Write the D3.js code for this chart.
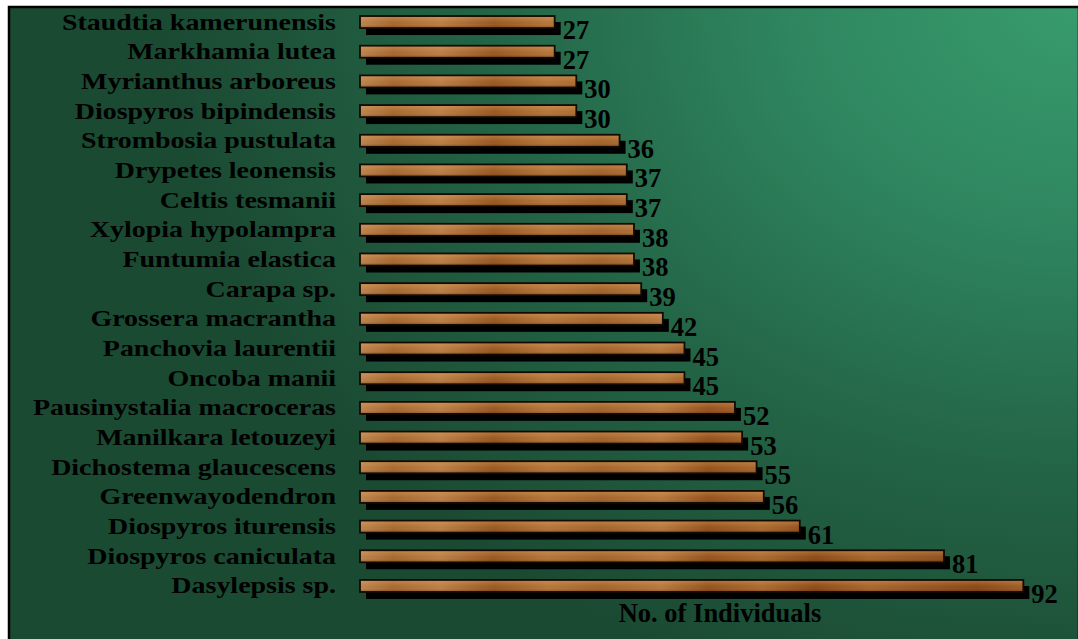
<!DOCTYPE html>
<html>
<head>
<meta charset="utf-8">
<script src="https://cdn.jsdelivr.net/npm/d3@7"></script>
<style>
  html, body { margin: 0; padding: 0; background: #ffffff; }
  svg { display: block; }
  text { font-family: "Liberation Serif", "Times New Roman", serif; font-weight: bold; fill: #000; }
</style>
</head>
<body>
<svg id="chart" width="1078" height="639"></svg>
<script>
const species = [
  "Staudtia kamerunensis", "Markhamia lutea", "Myrianthus arboreus", "Diospyros bipindensis",
  "Strombosia pustulata", "Drypetes leonensis", "Celtis tesmanii", "Xylopia hypolampra",
  "Funtumia elastica", "Carapa sp.", "Grossera macrantha", "Panchovia laurentii",
  "Oncoba manii", "Pausinystalia macroceras", "Manilkara letouzeyi", "Dichostema glaucescens",
  "Greenwayodendron", "Diospyros iturensis", "Diospyros caniculata", "Dasylepsis sp."
];
const individuals = [27, 27, 30, 30, 36, 37, 37, 38, 38, 39, 42, 45, 45, 52, 53, 55, 56, 61, 81, 92];
const axisTitle = "No. of Individuals";

const W = 1078, H = 639;
const svg = d3.select("#chart");
const defs = svg.append("defs");

// background gradient
const bg = defs.append("radialGradient").attr("id", "bg")
  .attr("gradientUnits", "userSpaceOnUse")
  .attr("cx", 1078).attr("cy", 0).attr("r", 760)
  .attr("gradientTransform", "translate(1078,0) scale(1.2,0.95) translate(-1078,0)");
[[0, "#389c6d"], [0.3, "#2f8760"], [0.65, "#236446"], [1, "#1b4a33"]].forEach(([o, c]) =>
  bg.append("stop").attr("offset", o).attr("stop-color", c));

// wood gradient (horizontal grain)
const wood = defs.append("linearGradient").attr("id", "wood")
  .attr("gradientUnits", "userSpaceOnUse").attr("x1", 360).attr("x2", 1030).attr("y1", 0).attr("y2", 0);
[[0, "#bf8650"], [0.05, "#a86a32"], [0.12, "#bd8048"], [0.2, "#9a5a24"], [0.28, "#b6773c"],
 [0.36, "#a4662e"], [0.45, "#b87a40"], [0.52, "#965420"], [0.6, "#ac6c32"], [0.68, "#8e4c1a"],
 [0.76, "#a86830"], [0.84, "#985826"], [0.92, "#8a4a1a"], [1, "#a2622e"]].forEach(([o, c]) =>
  wood.append("stop").attr("offset", o).attr("stop-color", c));
const shine = defs.append("linearGradient").attr("id", "shine")
  .attr("x1", 0).attr("x2", 0).attr("y1", 0).attr("y2", 1);
[[0, "#e8b070", 0.3], [0.45, "#e8b070", 0.05], [0.75, "#000000", 0.0], [1, "#000000", 0.15]].forEach(([o, c, a]) =>
  shine.append("stop").attr("offset", o).attr("stop-color", c).attr("stop-opacity", a));

svg.append("rect").attr("x", 9).attr("y", 7).attr("width", W - 8).attr("height", H)
  .attr("fill", "url(#bg)").attr("stroke", "#000").attr("stroke-width", 2.5);

const x = d3.scaleLinear().domain([0, 100]).range([360, 1081]);
const y = d3.scaleBand().domain(species).range([7.2, 600.8]).padding(0);
const barH = 12;
const cy = d => y(d) + y.bandwidth() / 2;

const rows = svg.append("g").selectAll("g").data(species).join("g");

// shadows
rows.append("rect")
  .attr("x", x(0) + 6)
  .attr("y", d => cy(d) - barH / 2 + 6)
  .attr("width", (d, i) => x(individuals[i]) - x(0))
  .attr("height", barH + 1)
  .attr("fill", "#000");

// bars
rows.append("rect")
  .attr("x", x(0))
  .attr("y", d => cy(d) - barH / 2)
  .attr("width", (d, i) => x(individuals[i]) - x(0))
  .attr("height", barH)
  .attr("fill", "url(#wood)")
  .attr("stroke", "#140a02").attr("stroke-width", 1.8);
rows.append("rect")
  .attr("x", x(0) + 1)
  .attr("y", d => cy(d) - barH / 2 + 1)
  .attr("width", (d, i) => x(individuals[i]) - x(0) - 2)
  .attr("height", barH - 2)
  .attr("fill", "url(#shine)");

// value labels
rows.append("text")
  .attr("x", (d, i) => x(individuals[i]) + 8)
  .attr("y", d => cy(d) + 17)
  .attr("font-size", 26.5)
  .text((d, i) => individuals[i]);

// category labels (horizontally stretched like the original)
rows.append("text")
  .attr("transform", d => `translate(336,${cy(d) + 7.5}) scale(1.19,1)`)
  .attr("text-anchor", "end")
  .attr("font-size", 23.5)
  .text(d => d);

svg.append("text")
  .attr("x", 720).attr("y", 622)
  .attr("text-anchor", "middle")
  .attr("font-size", 26.5)
  .text(axisTitle);
</script>
</body>
</html>
